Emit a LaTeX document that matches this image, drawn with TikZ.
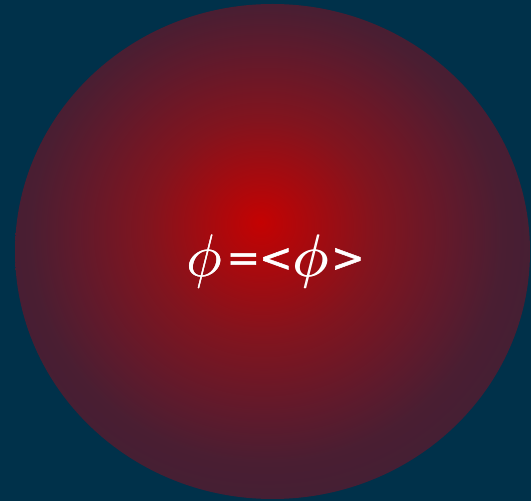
\documentclass[tikz,border=0pt]{standalone}
\usepackage{fontspec}
\usepackage{graphicx}
\newfontfamily\symfont[FakeBold=1.2]{DejaVu Sans}
\definecolor{bg}{RGB}{0,49,74}
\definecolor{cA}{RGB}{196,2,2}
\definecolor{cB}{RGB}{130,20,30}
\definecolor{cC}{RGB}{95,26,44}
\definecolor{cD}{RGB}{74,30,50}
\definecolor{cE}{RGB}{62,32,54}
\pgfdeclareradialshading{blob}{\pgfpoint{-1.2bp}{3bp}}{color(0bp)=(cA); color(11bp)=(cB); color(18.5bp)=(cC); color(23bp)=(cD); color(31bp)=(cE); color(50bp)=(cE)}
\newcommand{\bigphi}{\rlap{\scalebox{6}{$\phi$}}\kern0.7pt\scalebox{6}{$\phi$}}
\newcommand{\symtxt}[1]{\raisebox{5.5pt}{\symfont\fontsize{40}{40}\selectfont #1}}
\tikzset{
  phitext/.style={text=white, inner sep=0pt, anchor=base west}
}
\begin{document}
\begin{tikzpicture}[x=1pt,y=1pt]
\fill[bg] (0,0) rectangle (531,501);
\useasboundingbox (0,0) rectangle (531,501);
\shade[shading=blob] (272.5,249.5) ellipse [x radius=257.5, y radius=247.5];
\node[phitext] (lbl) at (186,224) {\bigphi\kern4pt\symtxt{=\kern-1pt<}\bigphi\kern2pt\symtxt{>}};
\end{tikzpicture}
\end{document}
